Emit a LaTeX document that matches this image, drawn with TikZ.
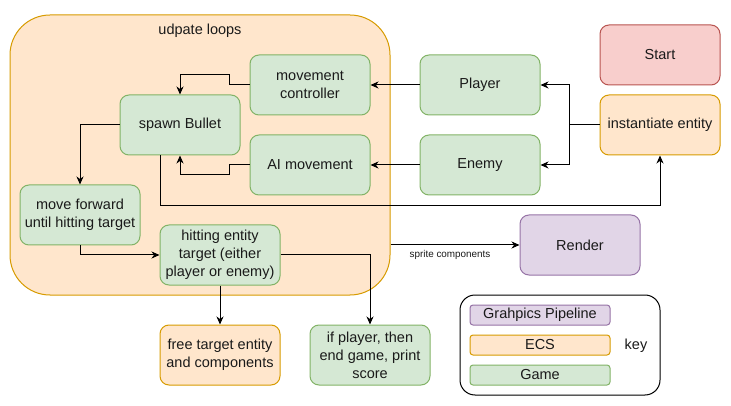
\documentclass[tikz,border=0pt]{standalone}
\usepackage{fontspec}
\setmainfont{Liberation Sans}
\usetikzlibrary{arrows.meta}
\definecolor{gfill}{HTML}{D5E8D4}
\definecolor{gdraw}{HTML}{82B366}
\definecolor{ofill}{HTML}{FFE6CC}
\definecolor{odraw}{HTML}{D79B00}
\definecolor{rfill}{HTML}{F8CECC}
\definecolor{rdraw}{HTML}{B85450}
\definecolor{pfill}{HTML}{E1D5E7}
\definecolor{pdraw}{HTML}{9673A6}
\definecolor{txt}{HTML}{1A1A1A}
\begin{document}
\begin{tikzpicture}[x=1pt,y=-1pt,
  lbl/.style={font=\fontsize{14.5}{18}\selectfont, text=txt, align=center, inner sep=0pt},
  box/.style={lbl, rectangle, rounded corners=9pt, minimum width=120pt, minimum height=60pt, line width=1pt},
  game/.style={box, fill=gfill, draw=gdraw},
  ecs/.style={box, fill=ofill, draw=odraw},
  startbox/.style={box, fill=rfill, draw=rdraw},
  gfx/.style={box, fill=pfill, draw=pdraw},
  keybox/.style={lbl, rectangle, rounded corners=3pt, minimum width=140pt, minimum height=20pt, line width=1pt},
  arr/.style={-{Stealth[length=8pt,width=7pt,inset=2.5pt]}, line width=1pt, draw=black}
]
\useasboundingbox (0,0) rectangle (731,406);
% container
\node[draw=odraw, fill=ofill, rounded corners=40pt, minimum width=380pt, minimum height=280pt, line width=1pt, inner sep=0pt] (loops) at (200,155) {};
\node[lbl] (looplbl) at (200,31) {udpate loops};
% nodes
\node[game] (mc) at (310,85) {movement\\controller};
\node[game] (sb) at (180,125) {spawn Bullet};
\node[game] (ai) at (310,165) {AI movement};
\node[game] (mf) at (80,215) {move forward\\until hitting target};
\node[game] (he) at (220,255) {hitting entity\\target (either\\player or enemy)};
\node[game] (pl) at (480,85) {Player};
\node[game] (en) at (480,165) {Enemy};
\node[startbox] (st) at (660,55) {Start};
\node[ecs] (ie) at (660,125) {instantiate entity};
\node[gfx] (re) at (580,245) {Render};
\node[ecs] (ft) at (220,355) {free target entity\\and components};
\node[game] (ip) at (370,355) {if player, then\\end game, print\\score};
% key
\node[draw=black, fill=white, rounded corners=15pt, minimum width=200pt, minimum height=100pt, line width=1pt, inner sep=0pt] (key) at (560,345) {};
\node[keybox, fill=pfill, draw=pdraw] (k1) at (540,315) {Grahpics Pipeline};
\node[keybox, fill=ofill, draw=odraw] (k2) at (540,345) {ECS};
\node[keybox, fill=gfill, draw=gdraw] (k3) at (540,375) {Game};
\node[lbl] (keylbl) at (636,346) {key};
% edges
\draw[arr] (mc.west) -- ++(-20,0) -- ++(0,-10) -| (sb.north);
\draw[arr] (ai.west) -- ++(-20,0) -- ++(0,10) -| (sb.south);
\draw[arr] (sb.west) -| (mf.north);
\draw[arr] (mf.south) |- (he.west);
\draw[arr] ([xshift=-20pt]sb.south) -- ++(0,50) -| (ie.south);
\draw[arr] (ie.west) -- ++(-30,0) |- (pl.east);
\draw[arr] (ie.west) -- ++(-30,0) |- (en.east);
\draw[arr] (pl.west) -- (mc.east);
\draw[arr] (en.west) -- (ai.east);
\draw[arr] (loops.east |- re.west) -- node[below=5pt, font=\fontsize{9.9}{12}\selectfont, text=txt, inner sep=0pt, xshift=-5pt] (sc) {sprite components} (re.west);
\draw[arr] (he.south) -- (ft.north);
\draw[arr] (he.east) -| (ip.north);
\end{tikzpicture}
\end{document}
